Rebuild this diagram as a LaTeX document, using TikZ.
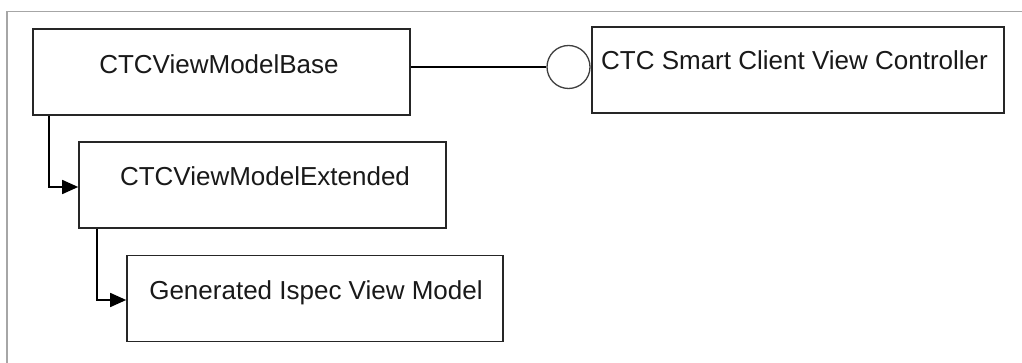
\documentclass[tikz,border=0pt]{standalone}
\usepackage{fontspec}
\setmainfont{Liberation Sans}
\usetikzlibrary{arrows.meta}
\definecolor{framegray}{HTML}{A6A6A6}
\definecolor{boxline}{HTML}{262626}
\begin{document}
\begin{tikzpicture}[x=1pt,y=-1pt,
  box/.style={draw=boxline,line width=1.6pt,fill=white,inner sep=0pt,
    minimum width=#1,minimum height=86pt},
  lbl/.style={inner sep=0pt,text height=0.72em,text depth=0pt,
    font=\fontsize{26}{30}\selectfont,text=black!90},
  link/.style={draw=black,line width=1.5pt},
  inherit/.style={link,-{Triangle[length=16pt,width=14pt]}},
  socket/.style={draw=black!75,line width=1.3pt,fill=white,circle,
    minimum size=43pt,inner sep=0pt}]
  \useasboundingbox (0,0) rectangle (1022,363);
  \fill[white] (0,0) rectangle (1022,363);
  % window frame
  \draw[framegray,line width=1.6pt] (7,363) -- (7,11.5) -- (1022,11.5);

  % classes
  \node[box=377pt] (base) at (221.5,72) {};
  \node[lbl] (baseT) at (219,70) {CTCViewModelBase};
  \node[box=367pt] (ext) at (262.5,185) {};
  \node[lbl] (extT) at (265,182) {CTCViewModelExtended};
  \node[box=376pt] (gen) at (315,298.5) {};
  \node[lbl] (genT) at (316,296) {Generated Ispec View Model};
  \node[box=412pt] (ctl) at (798,70) {};
  \node[lbl] (ctlT) at (794.5,65.5) {CTC Smart Client View Controller};

  % provided interface
  \node[socket] (iface) at (568.5,67) {};
  \draw[link] (base.east |- iface.west) -- (iface.west);

  % inheritance links
  \coordinate (b1) at (49,0);
  \coordinate (b2) at (97,0);
  \draw[inherit] (base.south -| b1) |- ([yshift=-2pt]ext.west);
  \draw[inherit] (ext.south -| b2) |- ([yshift=-1.5pt]gen.west);
\end{tikzpicture}
\end{document}
